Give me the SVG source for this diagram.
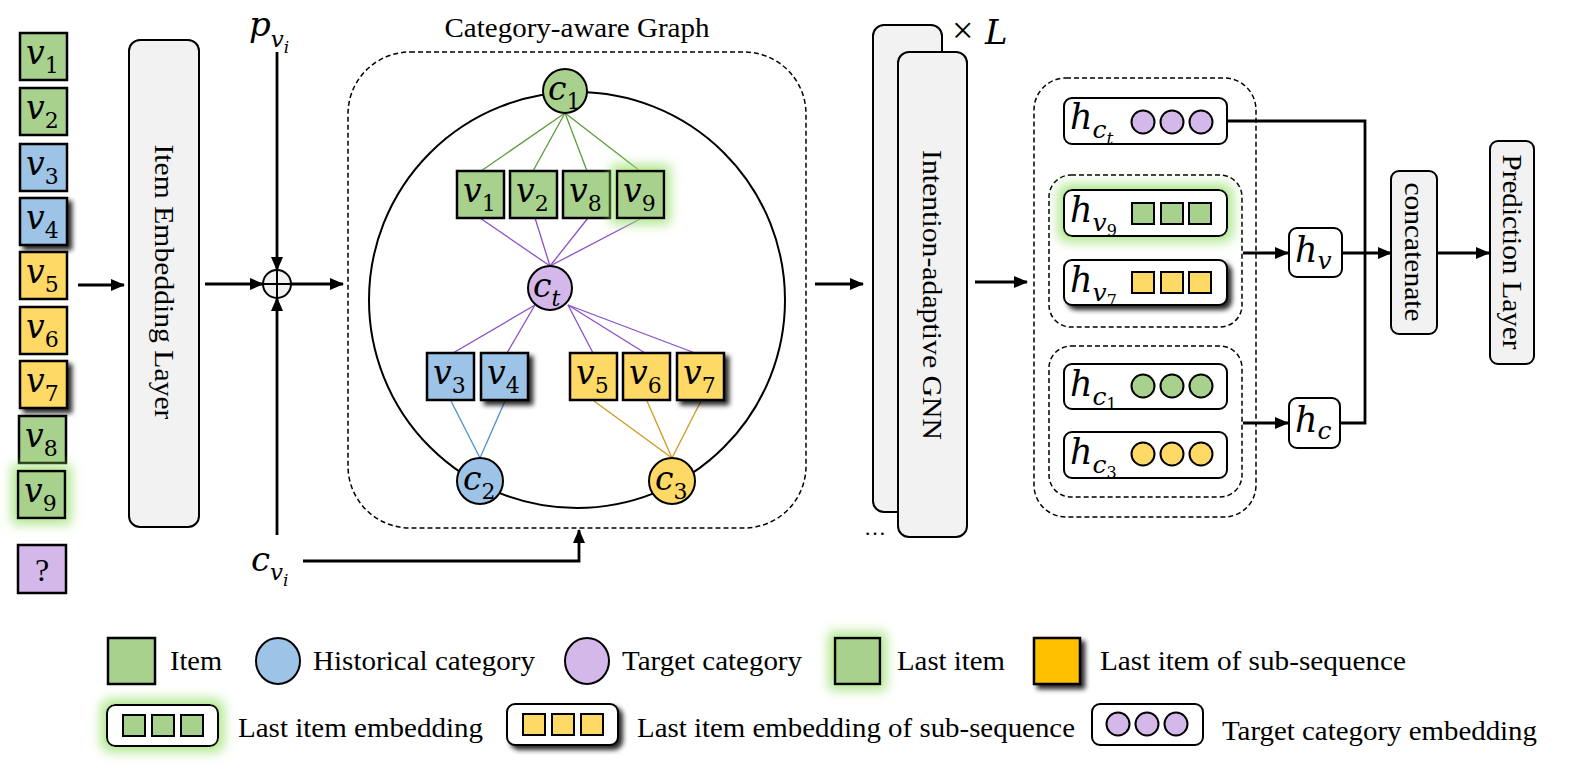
<svg xmlns="http://www.w3.org/2000/svg" width="1570" height="776" viewBox="0 0 1570 776">
<style>
text{font-family:"Liberation Serif","Times New Roman",serif;fill:#000}
.lbl{font-size:28px}
.mi{font-family:"DejaVu Serif",serif;font-style:italic}
.up{font-family:"DejaVu Serif",serif;font-style:normal}
.box{stroke:#000;stroke-width:2.5}
.g{fill:#A9D18E}.b{fill:#9DC3E6}.y{fill:#FFD966}.p{fill:#D5B8EA}
.gray{fill:#F2F2F2;stroke:#000;stroke-width:2}
.wb{fill:#fff;stroke:#000;stroke-width:2}
.dash{fill:none;stroke:#000;stroke-width:1.5;stroke-dasharray:5 3}
.arr{fill:none;stroke:#000;stroke-width:2.8;marker-end:url(#ah)}
.ln{fill:none;stroke:#000;stroke-width:2.8}
.eg{stroke:#5E9A3C;stroke-width:1.3}
.ep{stroke:#8B4FC8;stroke-width:1.3}
.eb{stroke:#4A90D0;stroke-width:1.3}
.ey{stroke:#CC9A1E;stroke-width:1.3}
.cc{stroke:#000;stroke-width:2}
</style>
<defs>
<marker id="ah" viewBox="0 0 14 12" refX="13" refY="6" markerWidth="14" markerHeight="12" orient="auto" markerUnits="userSpaceOnUse"><path d="M0,0 L14,6 L0,12 z" fill="#000"/></marker>
<filter id="glow" x="-60%" y="-60%" width="220%" height="220%">
<feMorphology in="SourceAlpha" operator="dilate" radius="5" result="d"/>
<feGaussianBlur in="d" stdDeviation="6" result="bl"/>
<feFlood flood-color="#9BE070" flood-opacity="0.8"/>
<feComposite in2="bl" operator="in" result="gl"/>
<feMerge><feMergeNode in="gl"/><feMergeNode in="SourceGraphic"/></feMerge>
</filter>
<filter id="shadow" x="-30%" y="-30%" width="170%" height="170%">
<feGaussianBlur in="SourceAlpha" stdDeviation="2.5"/>
<feOffset dx="4" dy="4" result="o"/>
<feComponentTransfer><feFuncA type="linear" slope="0.85"/></feComponentTransfer>
<feMerge><feMergeNode/><feMergeNode in="SourceGraphic"/></feMerge>
</filter>
</defs>

<!-- Left input sequence -->
<g id="seq-v1"><rect class="box g" x="20" y="33" width="47" height="47"/><text class="mi" x="26" y="64" font-size="33">v<tspan class="up" font-size="22" dy="9">1</tspan></text></g>
<g id="seq-v2"><rect class="box g" x="20" y="88" width="47" height="47"/><text class="mi" x="26" y="119" font-size="33">v<tspan class="up" font-size="22" dy="9">2</tspan></text></g>
<g id="seq-v3"><rect class="box b" x="20" y="144" width="47" height="47"/><text class="mi" x="26" y="175" font-size="33">v<tspan class="up" font-size="22" dy="9">3</tspan></text></g>
<g id="seq-v4"><rect class="box b" x="20" y="198" width="47" height="47" filter="url(#shadow)"/><text class="mi" x="26" y="229" font-size="33">v<tspan class="up" font-size="22" dy="9">4</tspan></text></g>
<g id="seq-v5"><rect class="box y" x="20" y="252" width="47" height="47"/><text class="mi" x="26" y="283" font-size="33">v<tspan class="up" font-size="22" dy="9">5</tspan></text></g>
<g id="seq-v6"><rect class="box y" x="20" y="307" width="47" height="47"/><text class="mi" x="26" y="338" font-size="33">v<tspan class="up" font-size="22" dy="9">6</tspan></text></g>
<g id="seq-v7"><rect class="box y" x="20" y="361" width="47" height="47" filter="url(#shadow)"/><text class="mi" x="26" y="392" font-size="33">v<tspan class="up" font-size="22" dy="9">7</tspan></text></g>
<g id="seq-v8"><rect class="box g" x="19" y="416" width="47" height="47"/><text class="mi" x="25" y="447" font-size="33">v<tspan class="up" font-size="22" dy="9">8</tspan></text></g>
<g id="seq-v9"><rect class="box g" x="18" y="471" width="47" height="47" filter="url(#glow)"/><text class="mi" x="24" y="502" font-size="33">v<tspan class="up" font-size="22" dy="9">9</tspan></text></g>
<g id="seq-q"><rect class="box p" x="18" y="545" width="48" height="48"/><text x="42" y="581" font-size="32" text-anchor="middle">?</text></g>

<!-- Item embedding layer -->
<g id="item-embedding">
<rect class="gray" x="129" y="40" width="70" height="487" rx="11"/>
<text class="lbl" x="164" y="282" text-anchor="middle" dominant-baseline="central" transform="rotate(90 164 282)" textLength="275" lengthAdjust="spacingAndGlyphs">Item Embedding Layer</text>
</g>

<!-- plus node -->
<g id="plus">
<circle cx="277" cy="284" r="14" fill="#F2F2F2" stroke="#000" stroke-width="2"/>
<line x1="263" y1="284" x2="291" y2="284" stroke="#000" stroke-width="2"/>
<line x1="277" y1="270" x2="277" y2="298" stroke="#000" stroke-width="2"/>
</g>
<g id="p-label"><text class="mi" x="249" y="36" font-size="34">p<tspan font-size="23" dy="11">v</tspan><tspan font-size="17" dy="6">i</tspan></text></g>
<g id="c-label"><text class="mi" x="251" y="571" font-size="34">c<tspan font-size="23" dy="9">v</tspan><tspan font-size="17" dy="6">i</tspan></text></g>

<!-- Category-aware graph -->
<g id="graph">
<text class="lbl" x="577" y="37" text-anchor="middle" textLength="265" lengthAdjust="spacingAndGlyphs">Category-aware Graph</text>
<rect class="dash" x="348" y="52" width="458" height="476" rx="62"/>
<circle cx="577" cy="300" r="208" fill="none" stroke="#000" stroke-width="2"/>
</g>

<!-- Connectors -->
<g id="connectors">
<line class="arr" x1="78" y1="285" x2="124" y2="285"/>
<line class="arr" x1="205" y1="284" x2="263" y2="284"/>
<line class="arr" x1="277" y1="52" x2="277" y2="270"/>
<line class="arr" x1="277" y1="535" x2="277" y2="298"/>
<line class="arr" x1="291" y1="284" x2="343" y2="284"/>
<path class="arr" d="M303,561 H579 V530"/>
<line class="arr" x1="815" y1="284" x2="863" y2="284"/>
<line class="arr" x1="975" y1="282" x2="1027" y2="282"/>
<line class="arr" x1="1243" y1="253" x2="1288" y2="253"/>
<line class="arr" x1="1243" y1="423" x2="1288" y2="423"/>
<line class="arr" x1="1342" y1="253" x2="1391" y2="253"/>
<path class="ln" d="M1227,121 H1365 V423 H1340"/>
<line class="arr" x1="1437" y1="253" x2="1489" y2="253"/>
<!-- graph edges -->
<line class="eg" x1="565" y1="113" x2="481" y2="171"/>
<line class="eg" x1="565" y1="113" x2="533" y2="171"/>
<line class="eg" x1="565" y1="113" x2="587" y2="171"/>
<line class="eg" x1="565" y1="113" x2="640" y2="171"/>
<line class="ep" x1="550" y1="266" x2="480" y2="218"/>
<line class="ep" x1="550" y1="266" x2="535" y2="218"/>
<line class="ep" x1="550" y1="266" x2="588" y2="218"/>
<line class="ep" x1="550" y1="266" x2="642" y2="218"/>
<line class="ep" x1="535" y1="305" x2="453" y2="353"/>
<line class="ep" x1="535" y1="305" x2="507" y2="353"/>
<line class="ep" x1="568" y1="305" x2="593" y2="353"/>
<line class="ep" x1="568" y1="305" x2="645" y2="353"/>
<line class="ep" x1="568" y1="305" x2="695" y2="353"/>
<line class="eb" x1="451" y1="401" x2="480" y2="458"/>
<line class="eb" x1="505" y1="401" x2="480" y2="458"/>
<line class="ey" x1="594" y1="401" x2="672" y2="458"/>
<line class="ey" x1="647" y1="401" x2="672" y2="458"/>
<line class="ey" x1="701" y1="401" x2="672" y2="458"/>
</g>

<!-- Graph nodes -->
<g id="node-c1"><circle class="cc g" cx="565" cy="91" r="22"/><text class="mi" x="548" y="100" font-size="33">c<tspan class="up" font-size="22" dy="9">1</tspan></text></g>
<g id="node-v1"><rect class="box g" x="457" y="171" width="47" height="47"/><text class="mi" x="463" y="202" font-size="33">v<tspan class="up" font-size="22" dy="9">1</tspan></text></g>
<g id="node-v2"><rect class="box g" x="510" y="171" width="47" height="47"/><text class="mi" x="516" y="202" font-size="33">v<tspan class="up" font-size="22" dy="9">2</tspan></text></g>
<g id="node-v8"><rect class="box g" x="563" y="171" width="47" height="47"/><text class="mi" x="569" y="202" font-size="33">v<tspan class="up" font-size="22" dy="9">8</tspan></text></g>
<g id="node-v9"><rect class="box g" x="617" y="171" width="47" height="47" filter="url(#glow)"/><text class="mi" x="623" y="202" font-size="33">v<tspan class="up" font-size="22" dy="9">9</tspan></text></g>
<g id="node-ct"><circle class="cc p" cx="550" cy="288" r="22"/><text class="mi" x="533" y="297" font-size="33">c<tspan font-size="22" dy="9">t</tspan></text></g>
<g id="node-v3"><rect class="box b" x="427" y="353" width="47" height="47"/><text class="mi" x="433" y="384" font-size="33">v<tspan class="up" font-size="22" dy="9">3</tspan></text></g>
<g id="node-v4"><rect class="box b" x="481" y="353" width="47" height="47" filter="url(#shadow)"/><text class="mi" x="487" y="384" font-size="33">v<tspan class="up" font-size="22" dy="9">4</tspan></text></g>
<g id="node-v5"><rect class="box y" x="570" y="353" width="47" height="47"/><text class="mi" x="576" y="384" font-size="33">v<tspan class="up" font-size="22" dy="9">5</tspan></text></g>
<g id="node-v6"><rect class="box y" x="623" y="353" width="47" height="47"/><text class="mi" x="629" y="384" font-size="33">v<tspan class="up" font-size="22" dy="9">6</tspan></text></g>
<g id="node-v7"><rect class="box y" x="677" y="353" width="47" height="47" filter="url(#shadow)"/><text class="mi" x="683" y="384" font-size="33">v<tspan class="up" font-size="22" dy="9">7</tspan></text></g>
<g id="node-c2"><circle class="cc b" cx="480" cy="481" r="23"/><text class="mi" x="463" y="490" font-size="33">c<tspan class="up" font-size="22" dy="9">2</tspan></text></g>
<g id="node-c3"><circle class="cc y" cx="672" cy="481" r="23"/><text class="mi" x="655" y="490" font-size="33">c<tspan class="up" font-size="22" dy="9">3</tspan></text></g>

<!-- GNN -->
<g id="gnn">
<rect class="gray" x="873" y="25" width="69" height="487" rx="11"/>
<rect class="gray" x="898" y="52" width="69" height="485" rx="11"/>
<text class="lbl" x="932" y="295" text-anchor="middle" dominant-baseline="central" transform="rotate(90 932 295)" textLength="290" lengthAdjust="spacingAndGlyphs">Intention-adaptive GNN</text>
<text x="952" y="43" font-size="38" font-family="DejaVu Sans">×</text>
<text class="mi" x="985" y="44" font-size="34">L</text>
<text x="875" y="535" font-size="22" text-anchor="middle">…</text>
</g>

<!-- Output embeddings -->
<g id="outputs">
<rect class="dash" x="1034" y="78" width="222" height="439" rx="32"/>
<rect class="dash" x="1049" y="175" width="193" height="152" rx="22"/>
<rect class="dash" x="1049" y="346" width="193" height="151" rx="22"/>
</g>
<g id="h-ct"><rect class="wb" x="1064" y="98" width="163" height="46" rx="8"/>
<text class="mi" x="1070" y="129" font-size="35">h<tspan font-size="25" dy="9">c</tspan><tspan font-size="17" dy="6">t</tspan></text>
<circle class="cc p" cx="1143" cy="122" r="11.5"/><circle class="cc p" cx="1172" cy="122" r="11.5"/><circle class="cc p" cx="1201" cy="122" r="11.5"/></g>
<g id="h-v9"><rect class="wb" x="1064" y="190" width="163" height="46" rx="8" filter="url(#glow)"/>
<text class="mi" x="1070" y="222" font-size="35">h<tspan font-size="25" dy="9">v</tspan><tspan class="up" font-size="16" dy="5">9</tspan></text>
<rect class="cc g" x="1132" y="203" width="22" height="21"/><rect class="cc g" x="1161" y="203" width="22" height="21"/><rect class="cc g" x="1189" y="203" width="22" height="21"/></g>
<g id="h-v7"><rect class="wb" x="1064" y="260" width="163" height="45" rx="8" filter="url(#shadow)"/>
<text class="mi" x="1070" y="292" font-size="35">h<tspan font-size="25" dy="9">v</tspan><tspan class="up" font-size="16" dy="5">7</tspan></text>
<rect class="cc y" x="1132" y="272" width="22" height="21"/><rect class="cc y" x="1161" y="272" width="22" height="21"/><rect class="cc y" x="1189" y="272" width="22" height="21"/></g>
<g id="h-c1"><rect class="wb" x="1064" y="364" width="163" height="45" rx="8"/>
<text class="mi" x="1070" y="396" font-size="35">h<tspan font-size="25" dy="9">c</tspan><tspan class="up" font-size="16" dy="5">1</tspan></text>
<circle class="cc g" cx="1143" cy="386" r="11.5"/><circle class="cc g" cx="1172" cy="386" r="11.5"/><circle class="cc g" cx="1201" cy="386" r="11.5"/></g>
<g id="h-c3"><rect class="wb" x="1064" y="432" width="163" height="46" rx="8"/>
<text class="mi" x="1070" y="464" font-size="35">h<tspan font-size="25" dy="9">c</tspan><tspan class="up" font-size="16" dy="5">3</tspan></text>
<circle class="cc y" cx="1143" cy="454" r="11.5"/><circle class="cc y" cx="1172" cy="454" r="11.5"/><circle class="cc y" cx="1201" cy="454" r="11.5"/></g>

<g id="h-v"><rect class="wb" x="1289" y="228" width="53" height="49" rx="8"/><text class="mi" x="1295" y="262" font-size="35">h<tspan font-size="25" dy="7">v</tspan></text></g>
<g id="h-c"><rect class="wb" x="1289" y="398" width="51" height="50" rx="8"/><text class="mi" x="1295" y="432" font-size="35">h<tspan font-size="25" dy="7">c</tspan></text></g>

<g id="concatenate"><rect class="gray" x="1391" y="171" width="46" height="163" rx="8"/>
<text class="lbl" x="1414" y="252" text-anchor="middle" dominant-baseline="central" transform="rotate(90 1414 252)" textLength="139" lengthAdjust="spacingAndGlyphs">concatenate</text></g>
<g id="prediction"><rect class="gray" x="1490" y="141" width="44" height="223" rx="8"/>
<text class="lbl" x="1512" y="252" text-anchor="middle" dominant-baseline="central" transform="rotate(90 1512 252)" textLength="195" lengthAdjust="spacingAndGlyphs">Prediction Layer</text></g>

<!-- Legend -->
<g id="legend">
<rect class="box g" x="108" y="638" width="47" height="46"/>
<text class="lbl" x="170" y="670" textLength="52" lengthAdjust="spacingAndGlyphs">Item</text>
<ellipse class="cc b" cx="278" cy="661" rx="22" ry="23"/>
<text class="lbl" x="313" y="670" textLength="222" lengthAdjust="spacingAndGlyphs">Historical category</text>
<ellipse class="cc p" cx="587" cy="661" rx="22" ry="23"/>
<text class="lbl" x="622" y="670" textLength="180" lengthAdjust="spacingAndGlyphs">Target category</text>
<rect class="box g" x="835" y="638" width="45" height="46" filter="url(#glow)"/>
<text class="lbl" x="897" y="670" textLength="108" lengthAdjust="spacingAndGlyphs">Last item</text>
<rect class="box" fill="#FFC000" x="1034" y="638" width="46" height="46" filter="url(#shadow)"/>
<text class="lbl" x="1100" y="670" textLength="306" lengthAdjust="spacingAndGlyphs">Last item of sub-sequence</text>

<rect class="wb" x="107" y="705" width="111" height="41" rx="8" filter="url(#glow)"/>
<rect class="cc g" x="123" y="715" width="22" height="21"/><rect class="cc g" x="152" y="715" width="22" height="21"/><rect class="cc g" x="181" y="715" width="22" height="21"/>
<text class="lbl" x="238" y="737" textLength="245" lengthAdjust="spacingAndGlyphs">Last item embedding</text>
<rect class="wb" x="507" y="704" width="111" height="41" rx="8" filter="url(#shadow)"/>
<rect class="cc y" x="523" y="714" width="22" height="21"/><rect class="cc y" x="552" y="714" width="22" height="21"/><rect class="cc y" x="581" y="714" width="22" height="21"/>
<text class="lbl" x="637" y="737" textLength="438" lengthAdjust="spacingAndGlyphs">Last item embedding of sub-sequence</text>
<rect class="wb" x="1092" y="704" width="111" height="41" rx="8"/>
<circle class="cc p" cx="1118" cy="724" r="11.5"/><circle class="cc p" cx="1147" cy="724" r="11.5"/><circle class="cc p" cx="1176" cy="724" r="11.5"/>
<text class="lbl" x="1222" y="740" textLength="315" lengthAdjust="spacingAndGlyphs">Target category embedding</text>
</g>
</svg>
